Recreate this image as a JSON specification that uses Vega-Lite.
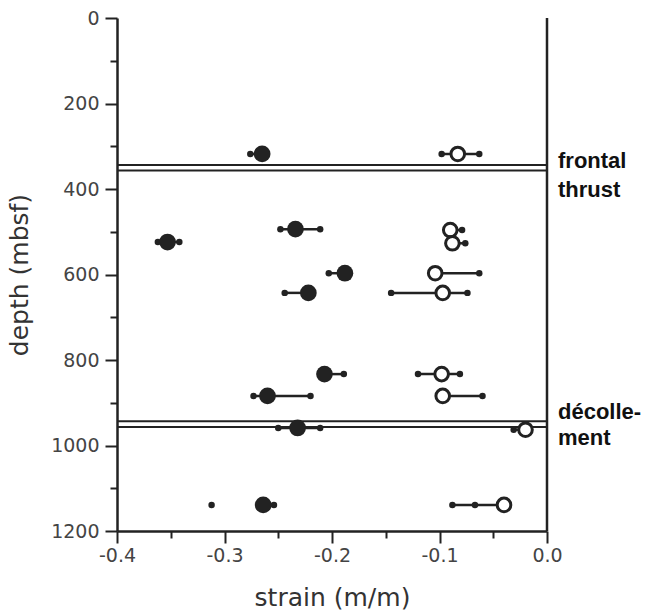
{
  "$schema": "https://vega.github.io/schema/vega-lite/v6.json",
  "width": 430,
  "height": 513,
  "autosize": {"type": "none"},
  "padding": {"left": 117, "top": 18, "right": 103, "bottom": 85},
  "background": "white",
  "config": {
    "view": {"stroke": null},
    "axis": {
      "grid": false,
      "domainColor": "#222", "domainWidth": 2.5,
      "tickColor": "#222", "tickWidth": 2, "tickSize": 10,
      "labelFont": "DejaVu Sans", "labelFontSize": 19, "labelColor": "#444",
      "labelFlush": false, "labelOverlap": false,
      "titleFont": "DejaVu Sans", "titleFontSize": 25, "titleFontWeight": "normal", "titleColor": "#333"
    }
  },
  "datasets": {
    "filled": [
      {"depth": 318, "strain": -0.265},
      {"depth": 524, "strain": -0.353},
      {"depth": 494, "strain": -0.234},
      {"depth": 597, "strain": -0.188},
      {"depth": 643, "strain": -0.222},
      {"depth": 833, "strain": -0.207},
      {"depth": 884, "strain": -0.260},
      {"depth": 959, "strain": -0.232},
      {"depth": 1139, "strain": -0.264}
    ],
    "open": [
      {"depth": 318, "strain": -0.083},
      {"depth": 496, "strain": -0.090},
      {"depth": 527, "strain": -0.088},
      {"depth": 597, "strain": -0.104},
      {"depth": 643, "strain": -0.097},
      {"depth": 833, "strain": -0.098},
      {"depth": 884, "strain": -0.097},
      {"depth": 963, "strain": -0.020},
      {"depth": 1139, "strain": -0.040}
    ],
    "bars": [
      {"depth": 318, "lo": -0.276, "hi": -0.265},
      {"depth": 318, "lo": -0.098, "hi": -0.063},
      {"depth": 524, "lo": -0.362, "hi": -0.342},
      {"depth": 494, "lo": -0.248, "hi": -0.211},
      {"depth": 496, "lo": -0.090, "hi": -0.079},
      {"depth": 527, "lo": -0.088, "hi": -0.076},
      {"depth": 597, "lo": -0.203, "hi": -0.188},
      {"depth": 597, "lo": -0.104, "hi": -0.063},
      {"depth": 643, "lo": -0.244, "hi": -0.222},
      {"depth": 643, "lo": -0.145, "hi": -0.074},
      {"depth": 833, "lo": -0.207, "hi": -0.189},
      {"depth": 833, "lo": -0.120, "hi": -0.081},
      {"depth": 884, "lo": -0.273, "hi": -0.220},
      {"depth": 884, "lo": -0.097, "hi": -0.060},
      {"depth": 959, "lo": -0.250, "hi": -0.211},
      {"depth": 963, "lo": -0.031, "hi": -0.020},
      {"depth": 1139, "lo": -0.264, "hi": -0.254},
      {"depth": 1139, "lo": -0.088, "hi": -0.040}
    ],
    "dots": [
      {"depth": 318, "strain": -0.276},
      {"depth": 318, "strain": -0.098},
      {"depth": 318, "strain": -0.063},
      {"depth": 524, "strain": -0.362},
      {"depth": 524, "strain": -0.342},
      {"depth": 494, "strain": -0.248},
      {"depth": 494, "strain": -0.211},
      {"depth": 496, "strain": -0.079},
      {"depth": 527, "strain": -0.076},
      {"depth": 597, "strain": -0.203},
      {"depth": 597, "strain": -0.063},
      {"depth": 643, "strain": -0.244},
      {"depth": 643, "strain": -0.145},
      {"depth": 643, "strain": -0.074},
      {"depth": 833, "strain": -0.189},
      {"depth": 833, "strain": -0.120},
      {"depth": 833, "strain": -0.081},
      {"depth": 884, "strain": -0.273},
      {"depth": 884, "strain": -0.220},
      {"depth": 884, "strain": -0.060},
      {"depth": 959, "strain": -0.250},
      {"depth": 959, "strain": -0.211},
      {"depth": 963, "strain": -0.031},
      {"depth": 1139, "strain": -0.254},
      {"depth": 1139, "strain": -0.312},
      {"depth": 1139, "strain": -0.088},
      {"depth": 1139, "strain": -0.067}
    ],
    "faults": [
      {"depth": 344}, {"depth": 357}, {"depth": 943}, {"depth": 957}
    ],
    "labels": [
      {"depth": 351, "label": "frontal"},
      {"depth": 419, "label": "thrust"},
      {"depth": 938, "label": "décolle-"},
      {"depth": 999, "label": "ment"}
    ]
  },
  "layer": [
    {
      "data": {"name": "bars"},
      "mark": {"type": "rule", "color": "#222", "strokeWidth": 2.5},
      "encoding": {
        "x": {
          "field": "lo", "type": "quantitative",
          "scale": {"domain": [-0.4, 0], "nice": false},
          "axis": {
            "title": "strain (m/m)",
            "values": [-0.4, -0.35, -0.3, -0.25, -0.2, -0.15, -0.1, -0.05, 0],
            "labelExpr": "abs(round(datum.value*10) - datum.value*10) < 0.001 ? replace(format(datum.value, '.1f'), '\u2212', '-') : ''",
            "tickSize": {"condition": {"test": "abs(round(datum.value*10) - datum.value*10) < 0.001", "value": 12}, "value": 7},
            "labelPadding": 3,
            "titlePadding": 20
          }
        },
        "x2": {"field": "hi"},
        "y": {
          "field": "depth", "type": "quantitative",
          "scale": {"domain": [0, 1200], "reverse": true, "nice": false},
          "axis": {
            "title": "depth (mbsf)",
            "values": [0, 100, 200, 300, 400, 500, 600, 700, 800, 900, 1000, 1100, 1200],
            "format": "d",
            "labelExpr": "datum.value % 200 === 0 ? datum.label : ''",
            "tickSize": {"condition": {"test": "datum.value % 200 === 0", "value": 12}, "value": 7},
            "labelPadding": 6,
            "titlePadding": 18
          }
        }
      }
    },
    {
      "data": {"name": "faults"},
      "mark": {"type": "rule", "color": "#222", "strokeWidth": 2},
      "encoding": {
        "y": {"field": "depth", "type": "quantitative"}
      }
    },
    {
      "data": {"values": [{"edge": 0}]},
      "mark": {"type": "rule", "color": "#222", "strokeWidth": 2.5},
      "encoding": {
        "x": {"field": "edge", "type": "quantitative"}
      }
    },
    {
      "data": {"name": "dots"},
      "mark": {"type": "circle", "color": "#222", "opacity": 1, "size": 42},
      "encoding": {
        "x": {"field": "strain", "type": "quantitative"},
        "y": {"field": "depth", "type": "quantitative"}
      }
    },
    {
      "data": {"name": "filled"},
      "mark": {"type": "circle", "color": "#222", "opacity": 1, "size": 280},
      "encoding": {
        "x": {"field": "strain", "type": "quantitative"},
        "y": {"field": "depth", "type": "quantitative"}
      }
    },
    {
      "data": {"name": "open"},
      "mark": {"type": "point", "shape": "circle", "filled": false, "fill": "white", "fillOpacity": 1, "stroke": "#222", "strokeWidth": 3, "opacity": 1, "size": 185},
      "encoding": {
        "x": {"field": "strain", "type": "quantitative"},
        "y": {"field": "depth", "type": "quantitative"}
      }
    },
    {
      "data": {"name": "labels"},
      "mark": {"type": "text", "align": "left", "baseline": "alphabetic", "dx": 11, "font": "Liberation Sans", "fontWeight": "bold", "fontSize": 22, "color": "#111"},
      "encoding": {
        "x": {"datum": 0, "type": "quantitative"},
        "y": {"field": "depth", "type": "quantitative"},
        "text": {"field": "label"}
      }
    }
  ]
}
